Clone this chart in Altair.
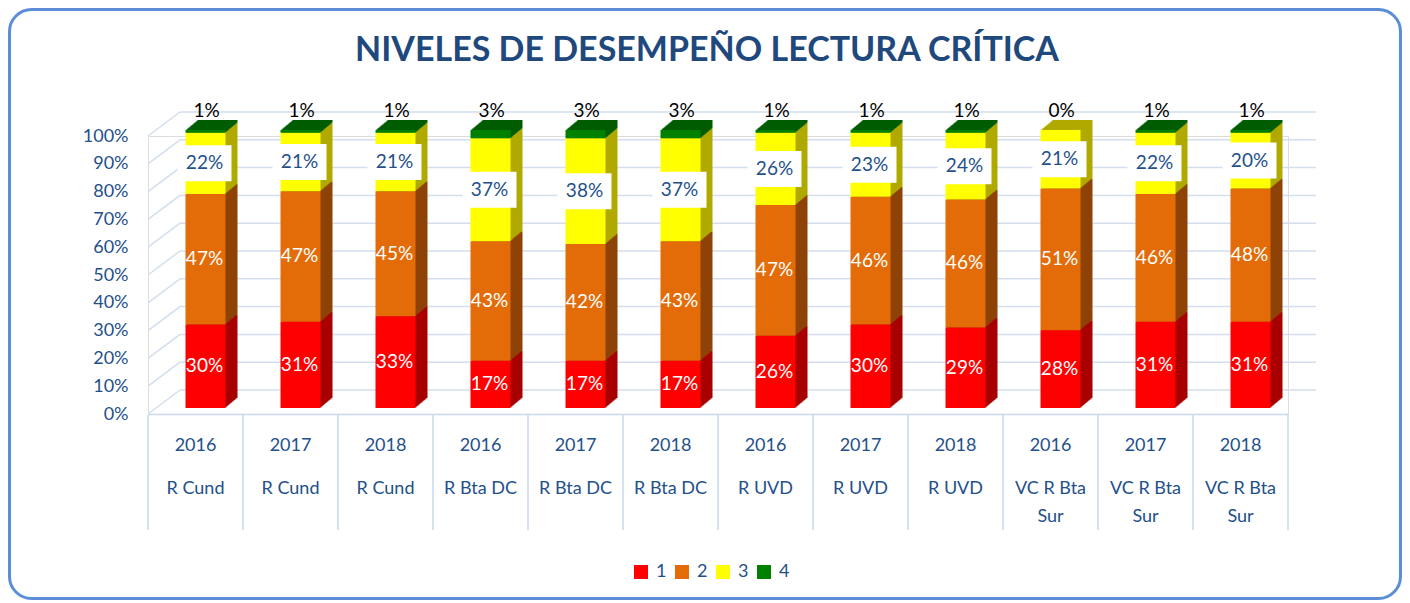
import altair as alt
import pandas as pd

title_text = "NIVELES DE DESEMPEÑO LECTURA CRÍTICA"
regions = ["R Cund"] * 3 + ["R Bta DC"] * 3 + ["R UVD"] * 3 + ["VC R Bta Sur"] * 3
years = ["2016", "2017", "2018"] * 4
nivel_1 = [30, 31, 33, 17, 17, 17, 26, 30, 29, 28, 31, 31]
nivel_2 = [47, 47, 45, 43, 42, 43, 47, 46, 46, 51, 46, 48]
nivel_3 = [22, 21, 21, 37, 38, 37, 26, 23, 24, 21, 22, 20]
nivel_4 = [1, 1, 1, 3, 3, 3, 1, 1, 1, 0, 1, 1]
levels = ["1", "2", "3", "4"]
front_colors = ["#FF0000", "#E36C09", "#FFFF00", "#008000"]
side_colors = ["#A80000", "#8E4206", "#B0AA00", "#005C00"]
y_ticks = [0, 10, 20, 30, 40, 50, 60, 70, 80, 90, 100]
region_lines = {"VC R Bta Sur": "VC R Bta|Sur"}

BLUE = "#24508A"
GRID = "#D3DEEE"
FONT = "Lato"
W, H = 1140, 278
PAD = {"left": 140, "top": 128, "right": 114, "bottom": 186}
SVG_W = PAD["left"] + W + PAD["right"]
SVG_H = PAD["top"] + H + PAD["bottom"]

keys = [f"{y}|{r}" for y, r in zip(years, regions)]

rows = []
for i, key in enumerate(keys):
    start = 0
    for j, (lev, vals) in enumerate(zip(levels, [nivel_1, nivel_2, nivel_3, nivel_4])):
        v = vals[i]
        rows.append(dict(key=key, level=lev, value=v, start=start, end=start + v,
                         mid=start + v / 2, label=f"{v}%", side=side_colors[j]))
        start += v
df = pd.DataFrame(rows)

cat_df = pd.DataFrame({"key": keys, "region": [region_lines.get(r, r) for r in regions]})

x_axis = alt.Axis(title=None, labelAngle=0, labelExpr="split(datum.value, '|')[0]",
                  labelPadding=22, labelFontSize=18, labelColor=BLUE,
                  labelFont=FONT, domainColor="#C9D8EC", domainWidth=1.5, ticks=False, grid=False)
x_scale = alt.Scale(domain=keys, paddingInner=0, paddingOuter=0)
y_axis = alt.Axis(title=None, values=y_ticks, labelExpr="datum.value + '%'", grid=False,
                  domain=False, ticks=False, labelPadding=20, labelFontSize=18,
                  labelColor=BLUE, labelFont=FONT)
y_scale = alt.Scale(domain=[0, 100], nice=False, zero=True)


def X(**kw):
    return alt.X("key:N", scale=x_scale, axis=x_axis, **kw)


def Y(field):
    return alt.Y(field, scale=y_scale, axis=y_axis)


base = alt.Chart(df)
layers = []

# frame around the whole chart
frame = alt.Chart(pd.DataFrame({"f": [0]})).mark_rect(
    fill=None, stroke="#5B8ED6", strokeWidth=3, cornerRadius=22
).encode(x=alt.value(1.5 - PAD["left"]), x2=alt.value(SVG_W - 1.5 - PAD["left"]),
         y=alt.value(1.5 - PAD["top"]), y2=alt.value(SVG_H - 1.5 - PAD["top"]))
layers.append(frame)

grid_df = pd.DataFrame({"v": y_ticks})
grid_h = alt.Chart(grid_df).mark_rule(color=GRID, strokeWidth=1.5, yOffset=-24).encode(
    x=alt.value(32), x2=alt.value(1168), y=Y("v:Q"))
grid_d = alt.Chart(grid_df).mark_rule(color=GRID, strokeWidth=1.5, y2Offset=-24).encode(
    x=alt.value(0), x2=alt.value(32), y=Y("v:Q"), y2="v:Q")
layers += [grid_h, grid_d]

sep = alt.Chart(cat_df).mark_rule(color="#C9D8EC", strokeWidth=1.5).encode(
    x=X(bandPosition=0), y=alt.value(H + 1), y2=alt.value(H + 116))
sep_last = alt.Chart(cat_df.tail(1)).mark_rule(color="#C9D8EC", strokeWidth=1.5).encode(
    x=X(bandPosition=1), y=alt.value(H + 1), y2=alt.value(H + 116))
region_txt = alt.Chart(cat_df).transform_calculate(
    lines="split(datum.region, '|')").mark_text(
    fontSize=18, font=FONT, color=BLUE, baseline="top", lineHeight=28, align="center").encode(
    x=X(), y=alt.value(H + 66), text="lines:N")
layers += [sep, sep_last, region_txt]

# 3D depth (side and top faces)
for k in range(12, 0, -1):
    dy = -6 - k * 10.0 / 12
    layers.append(base.mark_bar(size=40, xOffset=10 + k, x2Offset=10 + k,
                                yOffset=dy, y2Offset=dy).encode(
        x=X(), y=Y("start:Q"), y2="end:Q", fill=alt.Fill("side:N", scale=None)))

front = base.mark_bar(size=40, xOffset=10, x2Offset=10, yOffset=-6, y2Offset=-6).encode(
    x=X(), y=Y("start:Q"), y2="end:Q",
    color=alt.Color("level:N", scale=alt.Scale(domain=levels, range=front_colors),
                    legend=alt.Legend(title=None, orient="none", legendX=484, legendY=427,
                                      direction="horizontal", symbolType="square",
                                      symbolSize=196, symbolStrokeWidth=0, labelFontSize=18,
                                      labelColor=BLUE, labelFont=FONT, columnPadding=6,
                                      labelOffset=6)))
layers.append(front)

white_lbl = base.transform_filter("datum.level == '1' || datum.level == '2'").mark_text(
    color="white", fontSize=19, font=FONT, xOffset=9, yOffset=-6, baseline="middle").encode(
    x=X(), y=Y("mid:Q"), text="label:N")
box = base.transform_filter("datum.level == '3'").mark_point(
    shape="M-1.5,-1L1.5,-1L1.5,1L-1.5,1Z", size=1296, filled=True, color="white",
    opacity=1, strokeWidth=0, xOffset=9, yOffset=-6).encode(x=X(), y=Y("mid:Q"))
blue_lbl = base.transform_filter("datum.level == '3'").mark_text(
    color=BLUE, fontSize=19, font=FONT, xOffset=9, yOffset=-6, baseline="middle").encode(
    x=X(), y=Y("mid:Q"), text="label:N")
top_lbl = base.transform_filter("datum.level == '4'").mark_text(
    color="black", fontSize=19, font=FONT, xOffset=11, yOffset=-25, baseline="middle").encode(
    x=X(), y=Y("end:Q"), text="label:N")
layers += [white_lbl, box, blue_lbl, top_lbl]

title = alt.Chart(pd.DataFrame({"t": [title_text]})).mark_text(
    fontSize=34, font=FONT, fontWeight="bold", color="#1F497D", baseline="middle",
    align="center").encode(x=alt.value(559), y=alt.value(-85), text="t:N")
layers.append(title)

chart = alt.layer(*layers).properties(
    width=W, height=H,
    autosize=alt.AutoSizeParams(type="none"),
    padding=PAD,
).configure_view(stroke=None).configure(background="white")

chart.save("out.html", embed_options={"renderer": "svg", "actions": False})
